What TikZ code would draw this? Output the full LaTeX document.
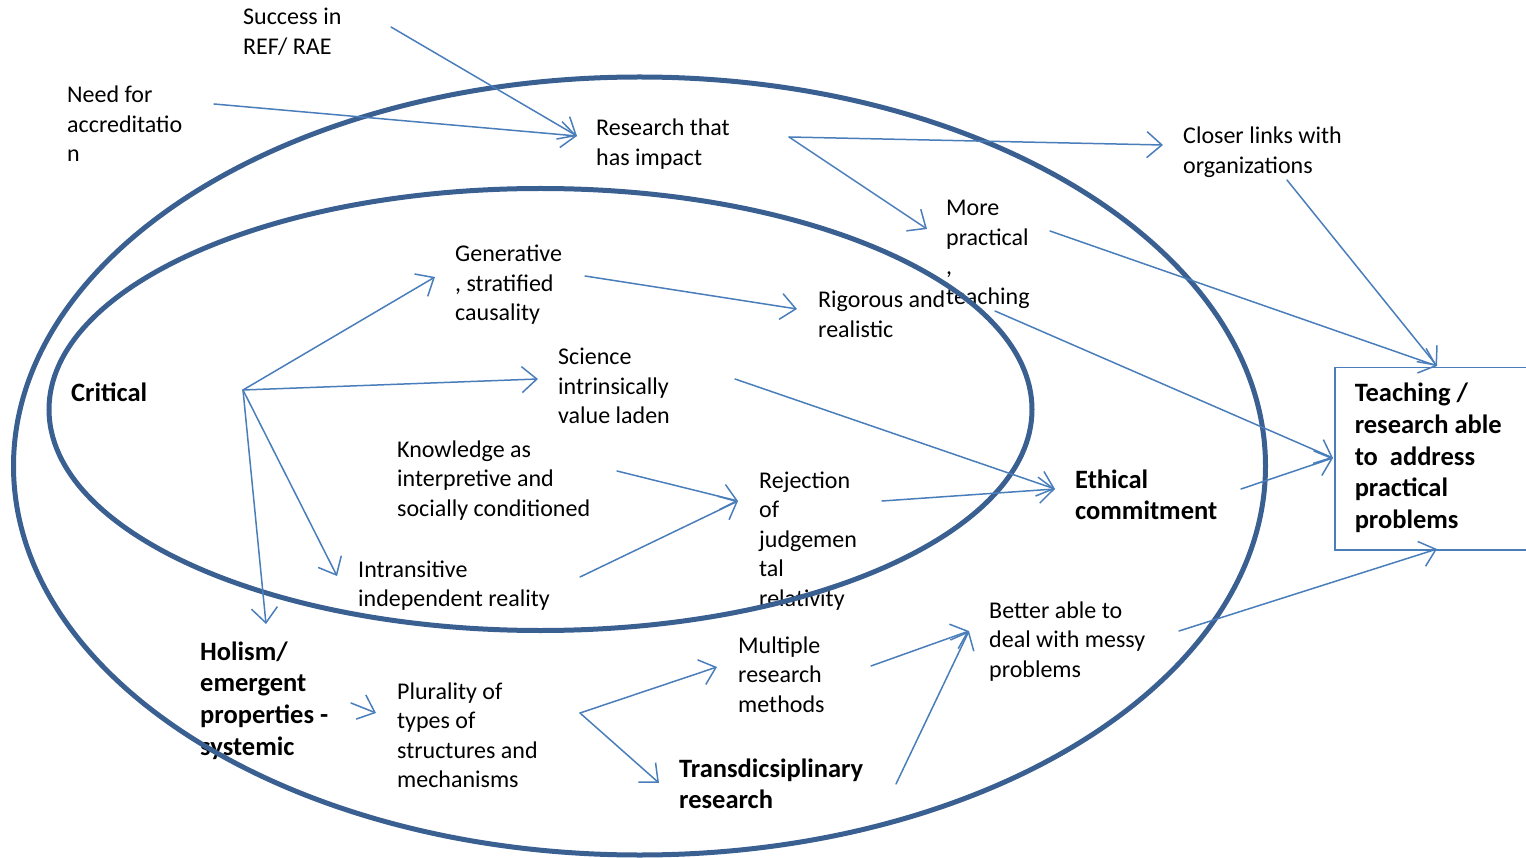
\documentclass[tikz,border=0pt]{standalone}
\usepackage{fontspec}
\setmainfont{Carlito}
\usetikzlibrary{arrows.meta}
\definecolor{ringblue}{HTML}{3A5F91}
\definecolor{arrowblue}{HTML}{4A7EBB}
\newcommand\stacklines[1]{\begin{tabular}[t]{@{}l@{}}#1\end{tabular}}
\begin{document}
\begin{tikzpicture}[x=1pt,y=-1pt,
  txt/.style={anchor=base west, inner sep=0pt, font=\fontsize{24}{29.5}\selectfont},
  btxt/.style={anchor=base west, inner sep=0pt, font=\fontsize{26.5}{31.7}\selectfont\bfseries},
  arr/.style={draw=arrowblue, line width=1.5pt, line cap=round,
    -{Straight Barb[length=15pt,width=26pt]}},
  ring/.style={draw=ringblue, line width=5pt}]
\useasboundingbox (0,0) rectangle (1526,858);

% texts
\node[txt] (succ) at (243,25) {\stacklines{Success in\\REF/ RAE}};
\node[txt] (need) at (67,103) {\stacklines{Need for\\accreditatio\\n}};
\node[txt] (res) at (596,136) {\stacklines{Research that\\has impact}};
\node[txt] (closer) at (1183,144) {\stacklines{Closer links with\\organizations}};
\node[txt] (more) at (946,216) {\stacklines{More\\practical\\,\\teaching}};
\node[txt] (gen) at (455,262) {\stacklines{Generative\\, stratified\\causality}};
\node[txt] (rig) at (818,308) {\stacklines{Rigorous and\\realistic}};
\node[btxt] (crit) at (71,402) {Critical};
\node[txt] (sci) at (558,365) {\stacklines{Science\\intrinsically\\value laden}};
\node[txt] (know) at (397,457) {\stacklines{Knowledge as\\interpretive and\\socially conditioned}};
\node[txt] (rej) at (759,488) {\stacklines{Rejection\\of\\judgemen\\tal\\relativity}};
\node[btxt] (eth) at (1075,488) {\stacklines{Ethical\\commitment}};
\node[txt] (intr) at (358,577) {\stacklines{Intransitive\\independent reality}};
\node[txt] (better) at (989,618) {\stacklines{Better able to\\deal with messy\\problems}};
\node[txt] (multi) at (738,653) {\stacklines{Multiple\\research\\methods}};
\node[btxt] (hol) at (200,660) {\stacklines{Holism/\\emergent\\properties -\\systemic}};
\node[txt] (plur) at (397,699) {\stacklines{Plurality of\\types of\\structures and\\mechanisms}};
\node[btxt] (trans) at (679,777) {\stacklines{Transdicsiplinary\\research}};
\node[draw=arrowblue, line width=1.5pt, anchor=north west, inner sep=0pt,
  minimum height=182pt, font=\fontsize{26.5}{31.7}\selectfont\bfseries]
  (teach) at (1334,367) {\hspace*{20pt}\stacklines{Teaching /\\research able\\to\ \ address\\practical\\problems}\hspace*{60pt}};

% ellipses
\draw[ring] (639.5,466) ellipse [x radius=626, y radius=389];
\draw[ring] (540.5,409.5) ellipse [x radius=491.5, y radius=221];

% connector ends
\coordinate (succ-out) at (391,27);
\coordinate (need-out) at (214,104);
\coordinate (res-in) at (577,136);
\coordinate (res-out) at (789,137);
\coordinate (closer-in) at (1163,145);
\coordinate (closer-out) at (1287,180);
\coordinate (more-in) at (927,229);
\coordinate (more-out) at (1050,231);
\coordinate (teaching-out) at (995,311);
\coordinate (gen-in) at (435,277);
\coordinate (gen-out) at (585,276);
\coordinate (rig-in) at (797,309);
\coordinate (hub) at (243,390);
\coordinate (sci-in) at (538,379);
\coordinate (sci-out) at (735,379);
\coordinate (intr-in) at (337,576);
\coordinate (intr-out) at (580,577);
\coordinate (hol-in) at (266,624);
\coordinate (know-out) at (617,471);
\coordinate (rej-in) at (738,501);
\coordinate (rej-out) at (882,501);
\coordinate (eth-in) at (1055,489);
\coordinate (eth-out) at (1241,489);
\coordinate (teach-top) at (1437,366);
\coordinate (teach-left) at (1333,458);
\coordinate (teach-bottom) at (1437,549);
\coordinate (hol-out) at (351,703);
\coordinate (plur-in) at (376,713);
\coordinate (plur-out) at (580,713);
\coordinate (multi-in) at (717,667);
\coordinate (multi-out) at (871,666);
\coordinate (trans-in) at (659,783);
\coordinate (trans-out) at (896,784);
\coordinate (better-in) at (969,631);
\coordinate (better-out) at (1179,631);

% connectors
\draw[arr] (succ-out) -- (res-in);
\draw[arr] (need-out) -- (res-in);
\draw[arr] (res-out) -- (closer-in);
\draw[arr] (res-out) -- (more-in);
\draw[arr] (gen-out) -- (rig-in);
\draw[arr] (more-out) -- (teach-top);
\draw[arr] (closer-out) -- (teach-top);
\draw[arr] (teaching-out) -- (teach-left);
\draw[arr] (eth-out) -- (teach-left);
\draw[arr] (better-out) -- (teach-bottom);
\draw[arr] (hub) -- (gen-in);
\draw[arr] (hub) -- (sci-in);
\draw[arr] (hub) -- (intr-in);
\draw[arr] (hub) -- (hol-in);
\draw[arr] (sci-out) -- (eth-in);
\draw[arr] (know-out) -- (rej-in);
\draw[arr] (intr-out) -- (rej-in);
\draw[arr] (rej-out) -- (eth-in);
\draw[arr] (hol-out) -- (plur-in);
\draw[arr] (plur-out) -- (multi-in);
\draw[arr] (plur-out) -- (trans-in);
\draw[arr] (multi-out) -- (better-in);
\draw[arr] (trans-out) -- (better-in);
\end{tikzpicture}
\end{document}
